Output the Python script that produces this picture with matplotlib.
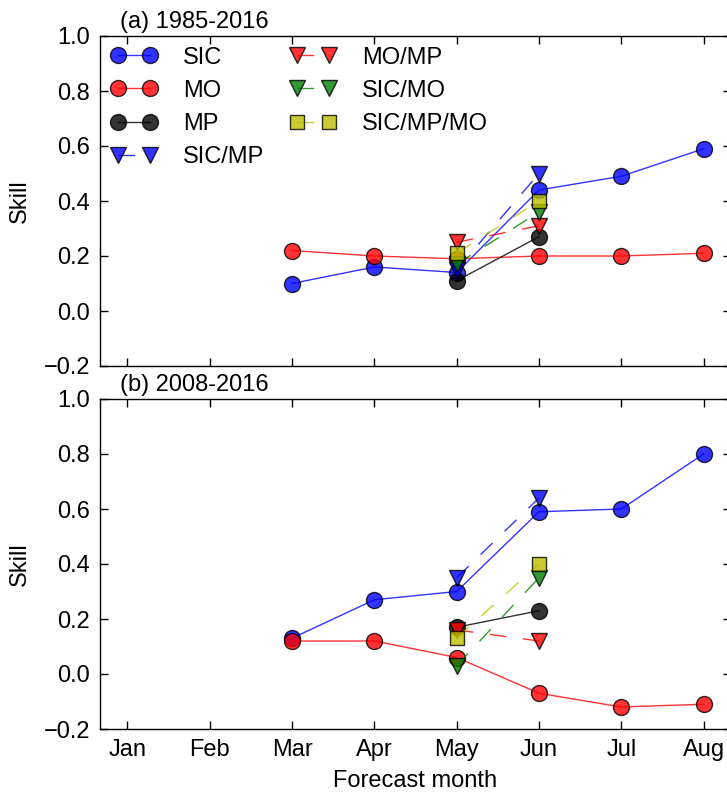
import matplotlib
matplotlib.use('Agg')
import matplotlib.pyplot as plt
import numpy as np

plt.rcParams['font.family'] = ['Liberation Sans', 'DejaVu Sans']
plt.rcParams['font.size'] = 17

months = ['Jan', 'Feb', 'Mar', 'Apr', 'May', 'Jun', 'Jul', 'Aug']
month_idx = np.arange(1, 9)

# full-season series start in March (idx 3..8), combos only May/Jun (idx 5, 6)
full_x = [3, 4, 5, 6, 7, 8]
pair_x = [5, 6]

# ── (a) 1985-2016 ──
a_sic = [0.10, 0.16, 0.14, 0.44, 0.49, 0.59]
a_mo = [0.22, 0.20, 0.19, 0.20, 0.20, 0.21]
a_mp = [0.11, 0.27]
a_sic_mp = [0.15, 0.50]
a_mo_mp = [0.25, 0.31]
a_sic_mo = [0.17, 0.36]
a_sic_mp_mo = [0.21, 0.40]

# ── (b) 2008-2016 ──
b_sic = [0.13, 0.27, 0.30, 0.59, 0.60, 0.80]
b_mo = [0.12, 0.12, 0.06, -0.07, -0.12, -0.11]
b_mp = [0.17, 0.23]
b_sic_mp = [0.35, 0.64]
b_mo_mp = [0.16, 0.12]
b_sic_mo = [0.03, 0.35]
b_sic_mp_mo = [0.13, 0.40]

panels = [
    ('(a) 1985-2016', a_sic, a_mo, a_mp, a_sic_mp, a_mo_mp, a_sic_mo, a_sic_mp_mo),
    ('(b) 2008-2016', b_sic, b_mo, b_mp, b_sic_mp, b_mo_mp, b_sic_mo, b_sic_mp_mo),
]

W, H = 727, 800
fig = plt.figure(figsize=(W / 100, H / 100), dpi=100)
ax_a = fig.add_axes([100 / W, (H - 366) / H, 631 / W, 330 / H])
ax_b = fig.add_axes([100 / W, (H - 729) / H, 631 / W, 330 / H])

DASH = (12, 12)
common = dict(alpha=0.8, mec='k', mew=1.0, lw=1.0)

for ax, (title, sic, mo, mp, sic_mp, mo_mp, sic_mo, sic_mp_mo) in zip([ax_a, ax_b], panels):
    ax.plot(full_x, sic, '-o', color='b', ms=11.5, label='SIC', **common)
    ax.plot(full_x, mo, '-o', color='r', ms=11.5, label='MO', **common)
    ax.plot(pair_x, mp, '-o', color='k', ms=11.5, label='MP', **common)
    ax.plot(pair_x, sic_mp, 'v', ls='--', dashes=DASH, color='b', ms=11.5, label='SIC/MP', **common)
    ax.plot(pair_x, mo_mp, 'v', ls='--', dashes=DASH, color='r', ms=11.5, label='MO/MP', **common)
    ax.plot(pair_x, sic_mo, 'v', ls='--', dashes=DASH, color='g', ms=11.5, label='SIC/MO', **common)
    ax.plot(pair_x, sic_mp_mo, 's', ls='--', dashes=DASH, color='y', ms=9.5, label='SIC/MP/MO', **common)

    ax.set_xlim(0.667, 8.333)
    ax.set_ylim(-0.2, 1.0)
    ax.set_xticks(month_idx)
    ax.set_yticks(np.arange(-0.2, 1.01, 0.2))
    ax.tick_params(direction='in', top=True, right=True, length=6, width=1, pad=7)
    for sp in ax.spines.values():
        sp.set_linewidth(1.0)
    ax.set_ylabel('Skill', labelpad=9)
    ax.text(0.032, 1.008, title, transform=ax.transAxes, ha='left', va='bottom')

ax_a.set_xticklabels([])
ax_b.set_xticklabels(months)
ax_b.set_xlabel('Forecast month', labelpad=7)

ax_a.legend(loc='upper left', bbox_to_anchor=(0, 1), ncol=2, numpoints=2, frameon=False,
            borderaxespad=0.1, borderpad=0.35, labelspacing=0.47, columnspacing=1.1,
            handlelength=1.95, handletextpad=1.1)

fig.savefig('out.png', dpi=100)
plt.close(fig)
